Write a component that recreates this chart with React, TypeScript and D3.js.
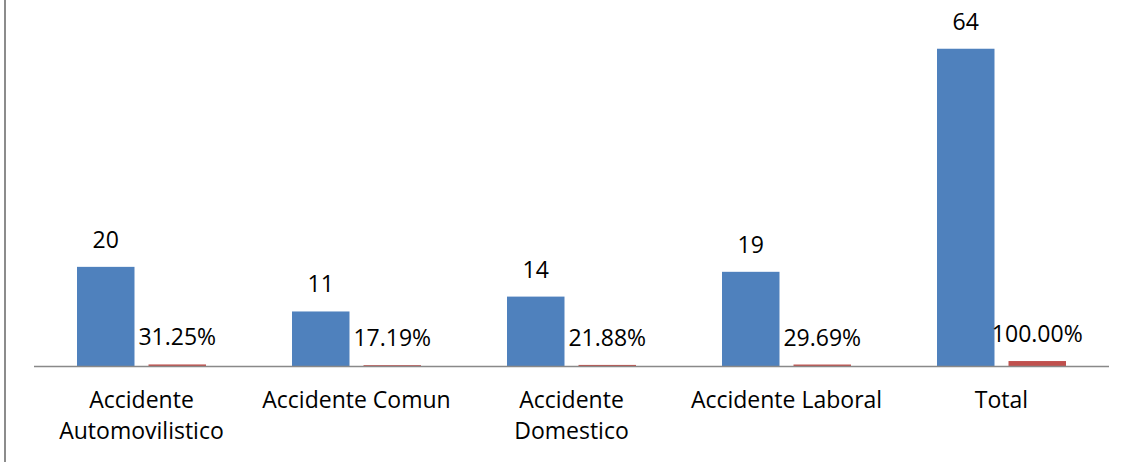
import React from "react";
import * as d3 from "d3";

const categories = [
  "Accidente Automovilistico",
  "Accidente Comun",
  "Accidente Domestico",
  "Accidente Laboral",
  "Total",
];
const categoryLines = [
  ["Accidente", "Automovilistico"],
  ["Accidente Comun"],
  ["Accidente", "Domestico"],
  ["Accidente Laboral"],
  ["Total"],
];
const counts = [20, 11, 14, 19, 64];
const shares = [0.3125, 0.1719, 0.2188, 0.2969, 1.0];

const W = 1129;
const H = 462;
const FONT = "'Open Sans', sans-serif";
const FS = 23;

export default function App() {
  const x0 = d3.scaleBand<string>().domain(categories).range([34, 1109]).paddingInner(0.4).paddingOuter(0.2);
  const x1 = d3.scaleBand<string>().domain(["count", "share"]).range([0, x0.bandwidth()]).paddingInner(0.196);
  const y = d3.scaleLinear().domain([0, 70]).range([366, 19]);
  const pct = (v: number) => (v * 100).toFixed(2) + "%";

  return (
    <svg width={W} height={H} style={{ position: "absolute", left: 0, top: 0, background: "#fff" }}>
      <rect x={0} y={0} width={W} height={H} fill="#fff" />
      <line x1={5} x2={5} y1={0} y2={H} stroke="#8c8c8c" strokeWidth={2} />
      {categories.map((c, i) => {
        const gx = x0(c)!;
        const bx = gx + x1("count")!;
        const rx = gx + x1("share")!;
        const bw = x1.bandwidth();
        return (
          <g key={c}>
            <rect x={bx} y={y(counts[i])} width={bw} height={y(0) - y(counts[i])} fill="#4F81BD" />
            <rect x={rx} y={y(shares[i])} width={bw} height={Math.max(0, y(0) - y(shares[i]))} fill="#C0504D" />
            <text x={bx + bw / 2} y={y(counts[i]) - 19} textAnchor="middle" fontFamily={FONT} fontSize={FS} fill="#000">
              {counts[i]}
            </text>
            <text x={rx + bw / 2} y={y(shares[i]) - 19} textAnchor="middle" fontFamily={FONT} fontSize={FS} fill="#000">
              {pct(shares[i])}
            </text>
            {categoryLines[i].map((ln, j) => (
              <text key={j} x={gx + x0.bandwidth() / 2} y={408 + j * 30.5} textAnchor="middle" fontFamily={FONT} fontSize={FS} fill="#000">
                {ln}
              </text>
            ))}
          </g>
        );
      })}
      <line x1={34} x2={1109} y1={y(0) + 0.5} y2={y(0) + 0.5} stroke="#898989" strokeWidth={1.5} />
    </svg>
  );
}
